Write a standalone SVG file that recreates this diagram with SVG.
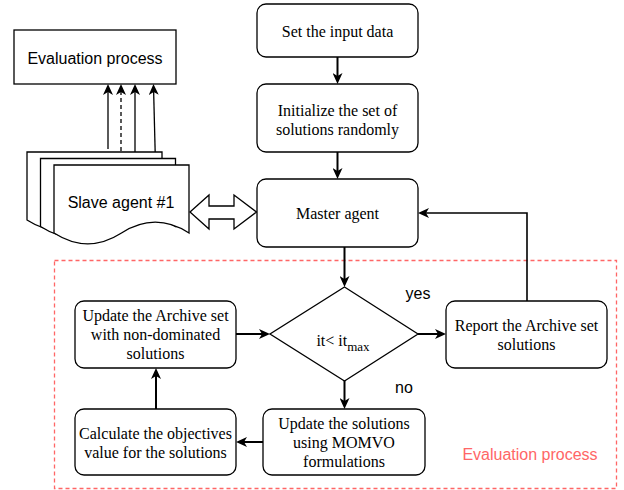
<svg xmlns="http://www.w3.org/2000/svg" width="624" height="490" viewBox="0 0 624 490">
  <style>
    .box { fill: #ffffff; stroke: #000000; stroke-width: 1.3; }
    .serif { font-family: "Liberation Serif", "Times New Roman", serif; font-size: 16px; fill: #000000; text-anchor: middle; }
    .sans { font-family: "Liberation Sans", Arial, sans-serif; font-size: 16px; fill: #000000; text-anchor: middle; }
    .edge { fill: none; stroke: #000000; stroke-width: 2; }
    .thin { fill: none; stroke: #000000; stroke-width: 1.3; }
    .dash { stroke-dasharray: 4 3; }
  </style>
  <defs>
    <marker id="arrow" markerUnits="userSpaceOnUse" viewBox="0 0 11 10" refX="5" refY="5" markerWidth="11" markerHeight="10" orient="auto">
      <path d="M0,0 L11,5 L0,10 L3,5 Z" fill="#000000"/>
    </marker>
    <path id="doc" d="M0,0 H135 V68 Q101.25,46.4 67.5,68 Q33.75,89.6 0,68 Z"/>
  </defs>

  <rect x="54.5" y="260.5" width="562" height="228" fill="none" stroke="#ff6666" stroke-width="1.3" stroke-dasharray="4 3"/>
  <text x="530" y="460" font-family="Liberation Sans, Arial, sans-serif" font-size="16" fill="#ff6666" text-anchor="middle">Evaluation process</text>

  <g id="connectors">
    <path class="edge" d="M337.5,57 V78" marker-end="url(#arrow)"/>
    <path class="edge" d="M337.5,152 V173" marker-end="url(#arrow)"/>
    <path class="edge" d="M344.5,247 V281" marker-end="url(#arrow)"/>
    <path class="edge" d="M418,334 H440" marker-end="url(#arrow)"/>
    <path class="edge" d="M344.5,381 V403" marker-end="url(#arrow)"/>
    <path class="edge" d="M263,442 H242" marker-end="url(#arrow)"/>
    <path class="edge" d="M156,409 V374" marker-end="url(#arrow)"/>
    <path class="edge" d="M236,334 H264" marker-end="url(#arrow)"/>
    <path class="thin" d="M527,301 V213 H424" marker-end="url(#arrow)" style="stroke-width:1.6"/>
    <path class="thin" d="M108,149 V90" marker-end="url(#arrow)"/>
    <path class="thin dash" d="M121,158 V90" marker-end="url(#arrow)"/>
    <path class="thin" d="M135,159 V90" marker-end="url(#arrow)"/>
    <path class="thin" d="M155.5,165 L153.6,90" marker-end="url(#arrow)"/>
    <path class="box" d="M190,212 L209,195 V206 H234 V195 L256.5,212 L234,229 V219 H209 V229 Z"/>
  </g>

  <g id="eval-box">
    <rect class="box" x="14" y="30" width="162" height="54"/>
    <text class="sans" x="95" y="63.5">Evaluation process</text>
  </g>

  <g id="slave-agents">
    <use href="#doc" class="box" transform="translate(27,152)"/>
    <use href="#doc" class="box" transform="translate(40.5,158.5)"/>
    <use href="#doc" class="box" transform="translate(54,165)"/>
    <text class="sans" x="121" y="207.5">Slave agent #1</text>
  </g>

  <g id="set-input">
    <rect class="box" x="257" y="4" width="161" height="53" rx="9"/>
    <text class="serif" x="337.5" y="37">Set the input data</text>
  </g>

  <g id="initialize">
    <rect class="box" x="257" y="84" width="161" height="68" rx="9"/>
    <text class="serif" x="337.5" y="115.5">Initialize the set of</text>
    <text class="serif" x="337.5" y="134.7">solutions randomly</text>
  </g>

  <g id="master">
    <rect class="box" x="257" y="179" width="161" height="68" rx="9"/>
    <text class="serif" x="337.5" y="219">Master agent</text>
  </g>

  <g id="decision">
    <path class="box" d="M344.5,287 L418,334 L344.5,381 L270,334 Z"/>
    <text class="serif" x="343" y="346">it&lt; it<tspan font-size="13" dy="5">max</tspan></text>
  </g>
  <text class="sans" x="418" y="298.5">yes</text>
  <text class="sans" x="404" y="392.5">no</text>

  <g id="update-archive">
    <rect class="box" x="75" y="301" width="161" height="67" rx="9"/>
    <text class="serif" x="155.5" y="321">Update the Archive set</text>
    <text class="serif" x="155.5" y="340.2">with non-dominated</text>
    <text class="serif" x="155.5" y="359.4">solutions</text>
  </g>

  <g id="report">
    <rect class="box" x="446" y="301" width="161" height="67" rx="9"/>
    <text class="serif" x="526.5" y="331">Report the Archive set</text>
    <text class="serif" x="526.5" y="350.2">solutions</text>
  </g>

  <g id="calculate">
    <rect class="box" x="75" y="409" width="161" height="66" rx="9"/>
    <text class="serif" x="155.5" y="438.5">Calculate the objectives</text>
    <text class="serif" x="155.5" y="457.7">value for the solutions</text>
  </g>

  <g id="update-solutions">
    <rect class="box" x="263" y="409" width="162" height="66" rx="9"/>
    <text class="serif" x="344" y="428.8">Update the solutions</text>
    <text class="serif" x="344" y="448">using MOMVO</text>
    <text class="serif" x="344" y="467.2">formulations</text>
  </g>
</svg>
